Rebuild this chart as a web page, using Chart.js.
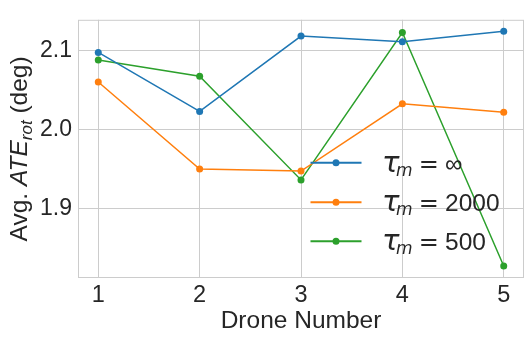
<!DOCTYPE html>
<html>
<head>
<meta charset="utf-8">
<script src="https://cdn.jsdelivr.net/npm/chart.js@4"></script>
<style>
  html, body { margin: 0; padding: 0; background: #fff; }
  #wrap { width: 530px; height: 339px; }
</style>
</head>
<body>
<div id="wrap"><canvas id="chart" width="530" height="339"></canvas></div>
<script>
const drones = [1, 2, 3, 4, 5];
const tauInf = [2.0976, 2.0229, 2.1184, 2.1112, 2.1245];
const tau2000 = [2.0602, 1.9498, 1.9473, 2.0325, 2.0217];
const tau500 = [2.0880, 2.0675, 1.9360, 2.1229, 1.8269];
const yTicks = [1.9, 2.0, 2.1];
const seriesNames = ["\u221e", "2000", "500"];
const colors = ["#1f77b4", "#ff7f0e", "#2ca02c"];

const textColor = "#262626";
const gridColor = "#cccccc";
const sans = "'Liberation Sans', Arial, sans-serif";
const dejavu = "'DejaVu Sans', sans-serif";

function points(values) {
    return drones.map((d, i) => ({ x: d, y: values[i] }));
}

// frame, axis titles with math text, and legend
const extras = {
    id: "extras",
    beforeDatasetsDraw(chart) {
        const ctx = chart.ctx;
        const a = chart.chartArea;
        ctx.save();
        ctx.strokeStyle = gridColor;
        ctx.lineWidth = 1;
        ctx.strokeRect(a.left + 0.5, a.top + 0.5, a.right - a.left - 1, a.bottom - a.top - 1);
        ctx.restore();
    },
    afterDraw(chart) {
        const ctx = chart.ctx;
        const a = chart.chartArea;
        ctx.save();
        ctx.fillStyle = textColor;
        ctx.textBaseline = "alphabetic";

        // x title
        ctx.font = "24.5px " + sans;
        ctx.textAlign = "center";
        ctx.fillText("Drone Number", (a.left + a.right) / 2, 328);

        // y title, rotated
        const parts = [
            { t: "Avg. ", f: "24.5px " + sans, dy: 0 },
            { t: "ATE", f: "italic 24.5px " + sans, dy: 0 },
            { t: "rot", f: "italic 17px " + sans, dy: 5 },
            { t: " (deg)", f: "24.5px " + sans, dy: 0 }
        ];
        let total = 0;
        parts.forEach(p => { ctx.font = p.f; p.w = ctx.measureText(p.t).width; total += p.w; });
        ctx.translate(26.5, (a.top + a.bottom) / 2);
        ctx.rotate(-Math.PI / 2);
        ctx.textAlign = "left";
        let px = -total / 2;
        parts.forEach(p => { ctx.font = p.f; ctx.fillText(p.t, px, p.dy); px += p.w; });
        ctx.setTransform(1, 0, 0, 1, 0, 0);

        // legend
        const rowY = [162.7, 202.3, 241.3];
        seriesNames.forEach((name, i) => {
            const y = rowY[i];
            ctx.strokeStyle = colors[i];
            ctx.lineWidth = 2;
            ctx.beginPath();
            ctx.moveTo(310.5, y);
            ctx.lineTo(361.5, y);
            ctx.stroke();
            ctx.fillStyle = colors[i];
            ctx.beginPath();
            ctx.arc(336, y, 3.5, 0, Math.PI * 2);
            ctx.fill();

            ctx.fillStyle = textColor;
            ctx.textAlign = "left";
            const base = y + 9;
            ctx.font = "italic 29px " + dejavu;
            ctx.fillText("\u03c4", 382, base);
            ctx.font = "italic 17px " + dejavu;
            ctx.fillText("m", 396, base + 4);
            ctx.font = "24px " + dejavu;
            ctx.fillText("=", 418.8, base);
            ctx.font = "24.5px " + sans;
            ctx.fillText(name, 445, base);
        });
        ctx.restore();
    }
};

new Chart(document.getElementById("chart"), {
    type: "line",
    data: {
        datasets: [tauInf, tau2000, tau500].map((vals, i) => ({
            label: seriesNames[i],
            data: points(vals),
            borderColor: colors[i],
            backgroundColor: colors[i],
            borderWidth: 1.5,
            pointRadius: 3.5,
            pointBorderWidth: 0,
            pointHoverRadius: 3.5,
            tension: 0
        }))
    },
    options: {
        responsive: false,
        animation: false,
        events: [],
        layout: { padding: { top: 7, right: 6, left: 0, bottom: 0 } },
        plugins: {
            legend: { display: false },
            tooltip: { enabled: false }
        },
        scales: {
            x: {
                type: "linear",
                min: 0.8,
                max: 5.2,
                afterBuildTicks: s => { s.ticks = drones.map(v => ({ value: v })); },
                afterFit: s => { s.height = 61; },
                grid: { color: gridColor, lineWidth: 1, drawTicks: false },
                border: { display: false },
                ticks: {
                    color: textColor,
                    padding: 3,
                    font: { family: sans, size: 23.5 },
                    callback: v => String(v)
                }
            },
            y: {
                min: 1.8117,
                max: 2.139,
                afterBuildTicks: s => { s.ticks = yTicks.map(v => ({ value: v })); },
                afterFit: s => { s.width = 78; },
                grid: { color: gridColor, lineWidth: 1, drawTicks: false },
                border: { display: false },
                ticks: {
                    color: textColor,
                    padding: 6,
                    font: { family: sans, size: 23 },
                    callback: v => v.toFixed(1)
                }
            }
        }
    },
    plugins: [extras]
});
</script>
</body>
</html>
